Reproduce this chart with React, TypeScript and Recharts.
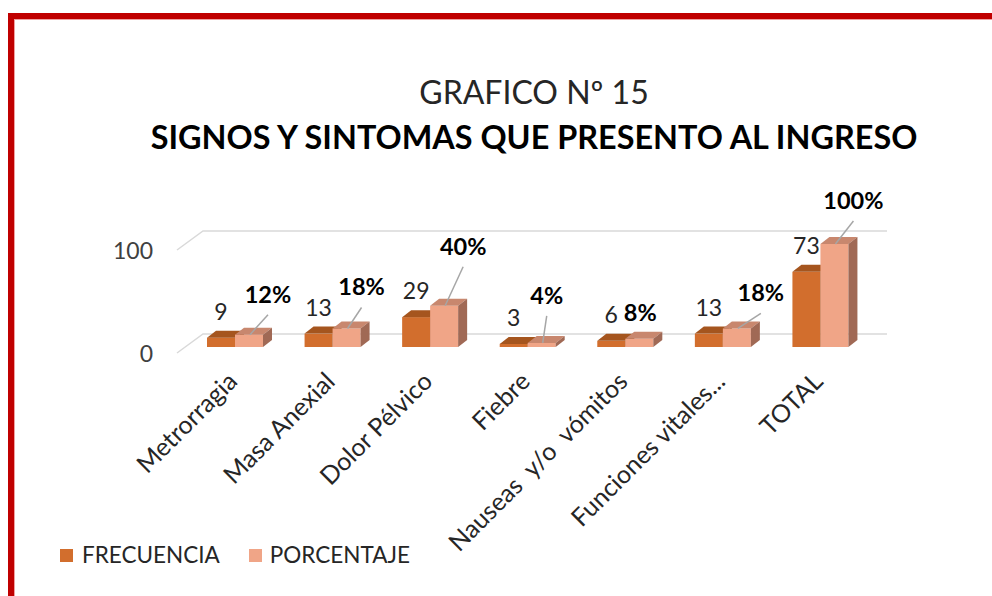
import React from 'react';
import { BarChart, Bar, XAxis, YAxis, CartesianGrid, LabelList } from 'recharts';

const categories = ['Metrorragia', 'Masa Anexial', 'Dolor Pélvico', 'Fiebre', 'Nauseas  y/o  vómitos', 'Funciones vitales...', 'TOTAL'];
const frecuencia = [9, 13, 29, 3, 6, 13, 73];
const porcentaje = [12, 18, 40, 4, 8, 18, 100];
const yTicks = [0, 100];

// manual nudges of the percentage labels (as placed in the original)
const pctNudge = [[19, -41], [15, -42], [19, -60], [5, -48], [1, -27], [24, -36], [19, -44]];

const FONT = 'Lato, "Open Sans", sans-serif';
const DX = 9;
const DY = 7;

const data = categories.map((name, i) => ({ name, frec: frecuencia[i], pct: porcentaje[i] }));

const make3D = (front: string, top: string, side: string) => (props: any) => {
    const { x, y, width: w, height: h } = props;
    return (
        <g>
            <rect x={x} y={y} width={w} height={h} fill={front} />
            <polygon points={`${x},${y} ${x + DX},${y - DY} ${x + w + DX},${y - DY} ${x + w},${y}`} fill={top} />
            <polygon points={`${x + w},${y} ${x + w + DX},${y - DY} ${x + w + DX},${y + h - DY} ${x + w},${y + h}`} fill={side} />
        </g>
    );
};

const gridLine = (p: any) => {
    const { x1, x2, y1 } = p;
    return (
        <path
            key={`g-${y1}`}
            d={`M${x1 - 9},${y1 + 6} L${x1 + 17},${y1 - 13} L${x2 + 18},${y1 - 13}`}
            stroke="#d9d9d9"
            strokeWidth={1.5}
            fill="none"
        />
    );
};

const YTick = (p: any) => (
    <text x={153} y={p.y + 6} textAnchor="end" dominantBaseline="central" fontSize={23} fill="#404040" fontFamily={FONT}>
        {p.payload.value}
    </text>
);

const XTick = (p: any) => {
    const tx = p.x + 4;
    const ty = 383;
    return (
        <text
            x={tx}
            y={ty}
            textAnchor="end"
            transform={`rotate(-45, ${tx}, ${ty})`}
            fontSize={25}
            fill="#262626"
            fontFamily={FONT}
            style={{ whiteSpace: 'pre' }}
        >
            {p.payload.value}
        </text>
    );
};

const FrecLabel = (p: any) => (
    <text x={p.x + p.width / 2} y={p.y - 27} textAnchor="middle" dominantBaseline="central" fontSize={23} fill="#262626" fontFamily={FONT}>
        {p.value}
    </text>
);

const PctLabel = (p: any) => {
    const cx = p.x + p.width / 2;
    const [nx, ny] = pctNudge[p.index];
    const lx = cx + nx;
    const ly = p.y + ny;
    return (
        <g>
            {ny < -30 && <line x1={cx + 1} y1={p.y} x2={lx} y2={ly + 21} stroke="#a6a6a6" strokeWidth={1.5} />}
            <text x={lx} y={ly} textAnchor="middle" dominantBaseline="central" fontSize={23.5} fontWeight="bold" fill="#000" fontFamily={FONT}>
                {p.value}%
            </text>
        </g>
    );
};

export default function App() {
    return (
        <div style={{ position: 'absolute', left: 0, top: 0, width: 992, height: 596, background: '#fff', overflow: 'hidden', fontFamily: FONT }}>
            <div style={{ position: 'absolute', left: 8, top: 13, width: 1000, height: 600, borderTop: '6px solid #c00000', borderLeft: '6px solid #c00000' }}>
                <div style={{ position: 'absolute', left: 0, top: 0, width: 1000, height: 600, borderTop: '1px solid #f0a0a0', borderLeft: '1px solid #f0a0a0' }} />
            </div>
            <div style={{ position: 'absolute', left: 534, top: 72, transform: 'translateX(-50%)', whiteSpace: 'nowrap', fontSize: 32, lineHeight: '40px', color: '#262626' }}>
                GRAFICO Nº 15
            </div>
            <div style={{ position: 'absolute', left: 534, top: 117, transform: 'translateX(-50%)', whiteSpace: 'nowrap', fontSize: 32.4, lineHeight: '40px', fontWeight: 'bold', color: '#000' }}>
                SIGNOS Y SINTOMAS QUE PRESENTO AL INGRESO
            </div>
            <BarChart width={992} height={596} data={data} margin={{ top: 244, right: 123, bottom: 129, left: 126 }} barGap={0} barSize={28}>
                <CartesianGrid vertical={false} horizontal={gridLine} />
                <XAxis dataKey="name" height={120} axisLine={false} tickLine={false} interval={0} tick={<XTick />} />
                <YAxis width={60} domain={[0, 100]} ticks={yTicks} axisLine={false} tickLine={false} tick={<YTick />} />
                <Bar dataKey="frec" fill="#d26e2d" isAnimationActive={false} shape={make3D('#d26e2d', '#a5551e', '#8f4a1a')}>
                    <LabelList dataKey="frec" content={<FrecLabel />} />
                </Bar>
                <Bar dataKey="pct" fill="#f0a587" isAnimationActive={false} shape={make3D('#f0a587', '#c8876e', '#a06955')}>
                    <LabelList dataKey="pct" content={<PctLabel />} />
                </Bar>
            </BarChart>
            <div style={{ position: 'absolute', left: 60, top: 541, display: 'flex', alignItems: 'center', fontSize: 22.5, lineHeight: '28px', color: '#262626' }}>
                <span style={{ width: 13, height: 13, background: '#d26e2d', display: 'inline-block', marginRight: 9 }} />
                <span>FRECUENCIA</span>
                <span style={{ width: 13, height: 13, background: '#f0a587', display: 'inline-block', marginLeft: 29, marginRight: 8 }} />
                <span>PORCENTAJE</span>
            </div>
        </div>
    );
}
